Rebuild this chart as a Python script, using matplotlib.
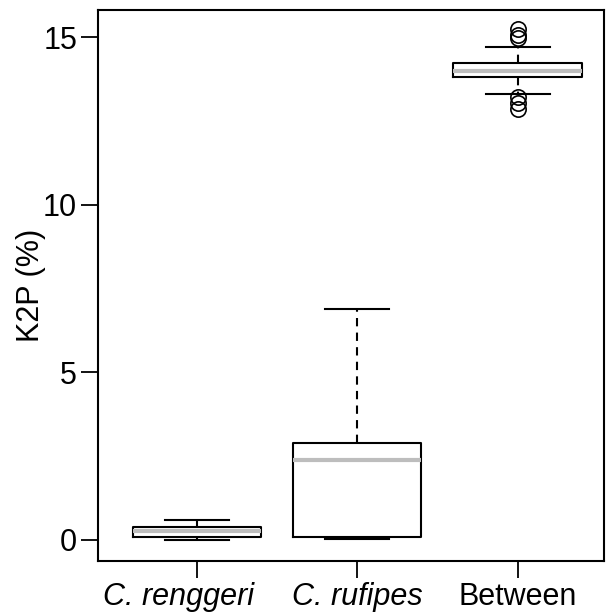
import matplotlib
matplotlib.use("Agg")
import matplotlib.pyplot as plt
from matplotlib.transforms import ScaledTranslation

labels = ["C. renggeri", "C. rufipes", "Between"]
italic = [True, True, False]
q1 = [0.09, 0.09, 13.80]
med = [0.27, 2.39, 14.00]
q3 = [0.39, 2.90, 14.24]
whislo = [0.00, 0.02, 13.31]
whishi = [0.60, 6.90, 14.72]
fliers = [[], [], [15.25, 15.05, 14.97, 13.22, 13.04, 12.87]]

plt.rcParams['font.family'] = ['Liberation Sans', 'DejaVu Sans']

fig = plt.figure(figsize=(6.12, 6.14), dpi=100)
ax = fig.add_axes([0.160, 0.0863, 0.827, 0.898])

stats = []
for i in range(3):
    stats.append(dict(label=labels[i], q1=q1[i], med=med[i], q3=q3[i],
                      whislo=whislo[i], whishi=whishi[i], fliers=fliers[i]))

ax.bxp(stats, positions=[1, 2, 3], widths=0.8, showfliers=True,
       boxprops=dict(color='black', linewidth=1.5),
       medianprops=dict(color='#bdbdbd', linewidth=3),
       whiskerprops=dict(color='black', linewidth=1.5, linestyle=(0, (4, 3))),
       capprops=dict(color='black', linewidth=1.5),
       capwidths=0.4,
       flierprops=dict(marker='o', markerfacecolor='none', markeredgecolor='black',
                       markersize=11, markeredgewidth=1.2))

ax.set_xlim(0.38, 3.54)
ax.set_ylim(-0.63, 15.82)
ax.set_yticks([0, 5, 10, 15])
ax.set_yticklabels(["0", "5", "10", "15"])
ax.set_xticks([1, 2, 3])
ax.set_xticklabels(labels)
for t, it in zip(ax.get_xticklabels(), italic):
    if it:
        t.set_fontstyle('italic')
ax.tick_params(axis='both', labelsize=22, length=12, width=1.3, direction='out')
ax.tick_params(axis='x', pad=3)
ax.tick_params(axis='y', pad=3)
# first category label sits slightly left of its tick in the reference
lbl0 = ax.get_xticklabels()[0]
lbl0.set_transform(lbl0.get_transform() + ScaledTranslation(-0.19, 0, fig.dpi_scale_trans))
ax.set_ylabel("K2P (%)", fontsize=22, labelpad=-2)
for s in ax.spines.values():
    s.set_linewidth(1.5)

fig.savefig("out.png", dpi=100)
